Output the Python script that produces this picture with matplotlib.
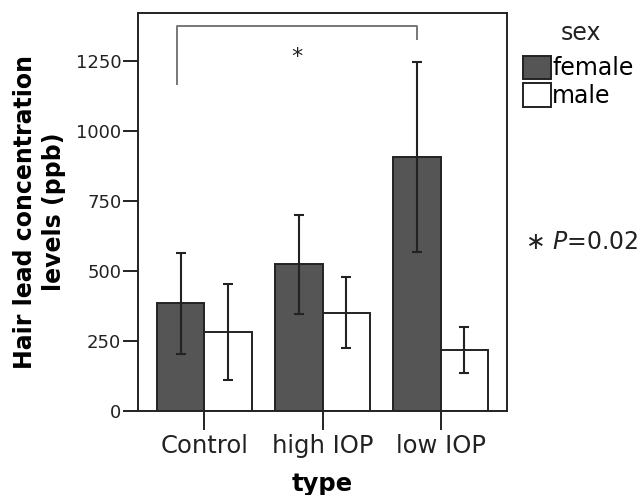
import numpy as np
import matplotlib
matplotlib.use("Agg")
import matplotlib.pyplot as plt

plt.rcParams['font.family'] = ['DejaVu Sans']
plt.rcParams['mathtext.fontset'] = 'dejavusans'

# data
types = ['Control', 'high IOP', 'low IOP']
female_mean = [383, 523, 906]
female_err = [180, 176, 340]
male_mean = [282, 350, 217]
male_err = [171, 127, 82]
yticks = [0, 250, 500, 750, 1000, 1250]

# bracket between control and low IOP (female)
bracket_top = 1374
bracket_left_end = 1165
bracket_right_end = 1327

fig = plt.figure(figsize=(6.37, 4.95), dpi=100)
ax = fig.add_axes([0.2166, 0.1703, 0.5794, 0.8034])

x = np.arange(len(types))
width = 0.4
err_kw = dict(ecolor='#222222', elinewidth=1.5, capsize=3.5, capthick=1.5)

ax.bar(x - width / 2, female_mean, width, yerr=female_err, color='#555555',
       edgecolor='#222222', linewidth=1.4, label='female', error_kw=err_kw)
ax.bar(x + width / 2, male_mean, width, yerr=male_err, color='white',
       edgecolor='#222222', linewidth=1.4, label='male', error_kw=err_kw)

# significance bracket
x_left = x[0] - width / 2 - 0.03
x_right = x[2] - width / 2
ax.plot([x_left, x_left, x_right, x_right],
        [bracket_left_end, bracket_top, bracket_top, bracket_right_end],
        color='#777777', linewidth=1.4)
ax.text((x_left + x_right) / 2, 1262, '*', ha='center', va='center',
        fontsize=16, color='#222222')

ax.set_xlim(-0.56, 2.56)
ax.set_ylim(0, 1420)
ax.set_xticks(x)
ax.set_xticklabels(types, fontsize=17.5)
ax.set_yticks(yticks)
ax.set_yticklabels([str(t) for t in yticks], fontsize=13)
ax.tick_params(axis='x', length=14, width=1.4, pad=3, colors='#222222')
ax.tick_params(axis='y', length=11, width=1.4, pad=1, colors='#222222')
for s in ax.spines.values():
    s.set_linewidth(1.4)
    s.set_color('#222222')

ax.set_xlabel('type', fontsize=17.5, fontweight='bold', labelpad=10)
ax.set_ylabel('Hair lead concentration\nlevels (ppb)', fontsize=17,
              fontweight='bold', labelpad=7, linespacing=1.25)

leg = ax.legend(loc='upper left', bbox_to_anchor=(1.043, 0.893), frameon=False,
                fontsize=17, handlelength=1.19, handleheight=1.18,
                handletextpad=0.05, labelspacing=0.1,
                borderaxespad=0, borderpad=0)
ax.text(1.2005, 0.95, 'sex', transform=ax.transAxes, ha='center', va='center',
        fontsize=17, color='#222222')

fig.text(0.824, 0.511, r'$\ast$ $\it{P}$=0.02', fontsize=17, va='center',
         ha='left', color='#222222')

fig.savefig('out.png', dpi=100)
